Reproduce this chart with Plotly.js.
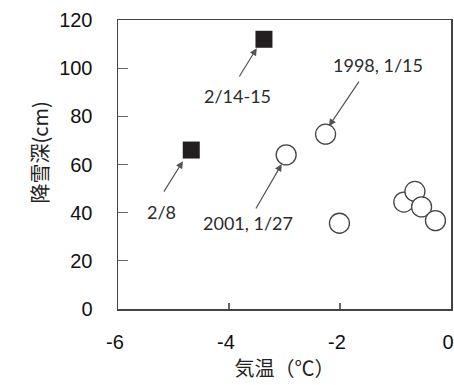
<!DOCTYPE html>
<html>
<head>
<meta charset="utf-8">
<script src="https://cdn.plot.ly/plotly-3.0.1.min.js"></script>
<style>html,body{margin:0;padding:0;background:#fff;}#chart{width:454px;height:385px;}</style>
</head>
<body>
<div id="chart"></div>
<script>
// Filled squares (recent events)
var squareTemp = [-3.37, -4.68];
var squareDepth = [112, 66];
// Open circles (past events)
var circleTemp = [-2.26, -2.97, -2.01, -0.85, -0.65, -0.53, -0.28];
var circleDepth = [72.6, 64, 35.6, 44.4, 48.8, 42.4, 36.7];
// Annotation labels
var labelTexts = ["2/14-15", "1998, 1/15", "2/8", "2001, 1/27"];
var labelX = [-3.84, -1.32, -5.21, -3.66];
var labelY = [88.4, 101.2, 40.2, 35.7];
var arrowTailX = [-3.83, -1.64, -5.19, -3.53];
var arrowTailY = [95.9, 95, 48.1, 41.1];
var arrowTipX = [-3.50, -2.20, -4.83, -3.05];
var arrowTipY = [108.3, 75.9, 61.4, 60.2];
var xTicks = [-6, -4, -2, 0];
var xTickLabels = ["-6", "-4", "-2", "0"];
var yTicks = [0, 20, 40, 60, 80, 100, 120];

var traces = [
  {x: circleTemp, y: circleDepth, type: 'scatter', mode: 'markers',
   marker: {symbol: 'circle', size: 20, color: '#ffffff', line: {color: '#444444', width: 1.3}},
   hoverinfo: 'none'},
  {x: squareTemp, y: squareDepth, type: 'scatter', mode: 'markers',
   marker: {symbol: 'square', size: 17, color: '#231f20', line: {width: 0}},
   hoverinfo: 'none'}
];

var annotations = [];
for (var i = 0; i < labelTexts.length; i++) {
  annotations.push({x: labelX[i], y: labelY[i], xref: 'x', yref: 'y', text: labelTexts[i],
    showarrow: false, font: {family: 'Lato, sans-serif', size: 18, color: '#2b2b2b'}});
  annotations.push({x: arrowTipX[i], y: arrowTipY[i], ax: arrowTailX[i], ay: arrowTailY[i],
    xref: 'x', yref: 'y', axref: 'x', ayref: 'y', text: '', showarrow: true,
    arrowhead: 2, arrowsize: 1.2, arrowwidth: 1.2, arrowcolor: '#555555'});
}
annotations.push({xref: 'paper', yref: 'paper', x: -0.285, y: 0.54, text: '降雪深(cm)',
  textangle: -90, showarrow: false,
  font: {family: '"Noto Sans CJK JP", sans-serif', size: 20, color: '#222222'}});

var layout = {
  width: 454, height: 385,
  margin: {l: 118, r: 3, t: 20, b: 76},
  paper_bgcolor: '#ffffff', plot_bgcolor: '#ffffff',
  showlegend: false,
  font: {family: '"Liberation Sans", Arial, sans-serif', color: '#111111'},
  xaxis: {range: [-6, 0.0001], tickvals: xTicks, ticktext: xTickLabels,
    showgrid: false, zeroline: false, showline: true, mirror: true,
    linecolor: '#444444', linewidth: 1.5, ticks: 'inside', ticklen: 6, tickcolor: '#666666', tickwidth: 1.2,
    tickfont: {size: 20, family: '"Liberation Sans", Arial, sans-serif', color: '#111111'},
    ticklabelstandoff: 14, ticklabelshift: -3, ticklabeloverflow: 'allow',
    title: {text: '気温（℃）', standoff: 10,
      font: {family: '"Noto Sans CJK JP", sans-serif', size: 20, color: '#222222'}}},
  yaxis: {range: [0, 120], tickvals: yTicks, ticktext: yTicks.map(String),
    showgrid: false, zeroline: false, showline: true, mirror: true,
    linecolor: '#444444', linewidth: 1.5, ticks: 'inside', ticklen: 10, tickcolor: '#666666', tickwidth: 1.2,
    tickfont: {size: 20, family: '"Liberation Sans", Arial, sans-serif', color: '#111111'},
    ticklabelstandoff: 20},
  annotations: annotations
};

Plotly.newPlot('chart', traces, layout, {staticPlot: true});
</script>
</body>
</html>
